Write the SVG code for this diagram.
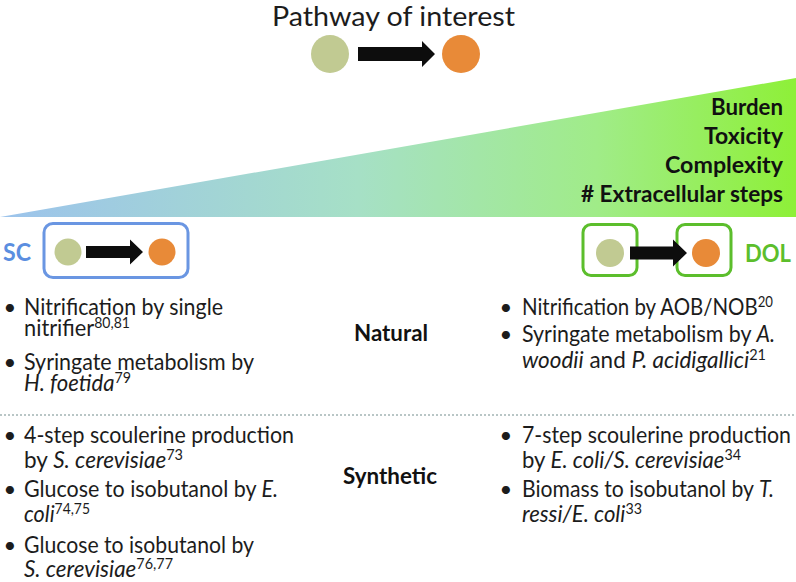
<svg xmlns="http://www.w3.org/2000/svg" width="796" height="582" viewBox="0 0 796 582">
<defs>
<linearGradient id="wedge" x1="0" y1="0" x2="796" y2="0" gradientUnits="userSpaceOnUse">
<stop offset="0" stop-color="#9cc3ec"/>
<stop offset="0.45" stop-color="#a6e0c6"/>
<stop offset="0.75" stop-color="#a0ec88"/>
<stop offset="1" stop-color="#8ef038"/>
</linearGradient>
<style>
.t{font-family:Lato,"Open Sans",sans-serif;font-size:22.5px;fill:#1c1c1c}
.ttl{font-family:Lato,"Open Sans",sans-serif;font-size:26px;fill:#1c1c1c}
.b{font-family:Lato,"Open Sans",sans-serif;font-weight:bold;font-size:22.5px;fill:#111}
.i{font-style:italic}
.sup{font-size:14.5px}
.bul{font-size:22px;text-anchor:middle}
.src{fill:#c1ca92}
.dst{fill:#e88a38}
.arrow{fill:#0d0d0d}
.scbox{fill:none;stroke:#6a96e2;stroke-width:3}
.dolbox{fill:none;stroke:#5cbe2c;stroke-width:3}
</style>
</defs>

<g id="title">
<text class="ttl" x="272" y="26" textLength="243" lengthAdjust="spacingAndGlyphs">Pathway of interest</text>
</g>

<g id="pathway">
<circle class="src" cx="330" cy="54" r="19"/>
<circle class="dst" cx="461" cy="54" r="19"/>
</g>

<g id="gradient">
<polygon points="0,217 796,78 796,217" fill="url(#wedge)"/>
<text class="b" text-anchor="end"><tspan x="783" y="115" textLength="72" lengthAdjust="spacingAndGlyphs">Burden</tspan><tspan x="783" y="144" textLength="79" lengthAdjust="spacingAndGlyphs">Toxicity</tspan><tspan x="783" y="173" textLength="118" lengthAdjust="spacingAndGlyphs">Complexity</tspan><tspan x="783" y="202" textLength="202" lengthAdjust="spacingAndGlyphs"># Extracellular steps</tspan></text>
</g>

<g id="sc">
<text class="b" x="3" y="261" style="fill:#5b8ee0;font-size:25px" textLength="28" lengthAdjust="spacingAndGlyphs">SC</text>
<rect class="scbox" x="44" y="223.5" width="144" height="54" rx="9"/>
<circle class="src" cx="68" cy="252" r="13.5"/>
<circle class="dst" cx="162" cy="252" r="13.5"/>
</g>

<g id="dol">
<rect class="dolbox" x="583" y="224.5" width="54" height="51" rx="8"/>
<rect class="dolbox" x="677" y="224.5" width="54" height="51" rx="8"/>
<circle class="src" cx="610" cy="253" r="14"/>
<circle class="dst" cx="706" cy="253" r="14"/>
<text class="b" x="745" y="262" style="fill:#5cbe2c;font-size:25px" textLength="46" lengthAdjust="spacingAndGlyphs">DOL</text>
</g>

<g id="connectors">
<polygon class="arrow" points="358,47 422,47 422,41 435,54 422,67 422,61 358,61"/>
<polygon class="arrow" points="86,246 130,246 130,239.5 143,252 130,264.5 130,258 86,258"/>
<polygon class="arrow" points="630,246.5 673,246.5 673,239.5 687,253 673,266.5 673,259.5 630,259.5"/>
</g>

<g id="natural-sc">
<text class="t"><tspan class="bul" x="10" y="315">•</tspan><tspan x="24" y="315" textLength="199" lengthAdjust="spacingAndGlyphs">Nitrification by single</tspan><tspan x="24" y="336" textLength="106" lengthAdjust="spacingAndGlyphs">nitrifier<tspan class="sup" dy="-8">80,81</tspan></tspan><tspan class="bul" x="10" y="370">•</tspan><tspan x="24" y="370" textLength="230" lengthAdjust="spacingAndGlyphs">Syringate metabolism by</tspan><tspan x="24" y="391" textLength="107" lengthAdjust="spacingAndGlyphs"><tspan class="i">H. foetida</tspan><tspan class="sup" dy="-8">79</tspan></tspan></text>
</g>

<g id="natural-label">
<text class="b" x="391" y="341" text-anchor="middle" textLength="74" lengthAdjust="spacingAndGlyphs">Natural</text>
</g>

<g id="natural-dol">
<text class="t"><tspan class="bul" x="506" y="315">•</tspan><tspan x="522" y="315" textLength="251" lengthAdjust="spacingAndGlyphs">Nitrification by AOB/NOB<tspan class="sup" dy="-8">20</tspan></tspan><tspan class="bul" x="506" y="342">•</tspan><tspan x="522" y="342" textLength="253" lengthAdjust="spacingAndGlyphs">Syringate metabolism by <tspan class="i">A.</tspan></tspan><tspan x="522" y="368" textLength="244" lengthAdjust="spacingAndGlyphs"><tspan class="i">woodii</tspan> and <tspan class="i">P. acidigallici</tspan><tspan class="sup" dy="-8">21</tspan></tspan></text>
</g>

<g id="divider">
<line x1="0" y1="415" x2="796" y2="415" stroke="#b9c6c6" stroke-width="2" stroke-dasharray="2 2"/>
</g>

<g id="synthetic-sc">
<text class="t"><tspan class="bul" x="10" y="443">•</tspan><tspan x="24" y="443" textLength="270" lengthAdjust="spacingAndGlyphs">4-step scoulerine production</tspan><tspan x="24" y="468" textLength="159" lengthAdjust="spacingAndGlyphs">by <tspan class="i">S. cerevisiae</tspan><tspan class="sup" dy="-8">73</tspan></tspan><tspan class="bul" x="10" y="497">•</tspan><tspan x="24" y="497" textLength="254" lengthAdjust="spacingAndGlyphs">Glucose to isobutanol by <tspan class="i">E.</tspan></tspan><tspan x="24" y="522" textLength="66" lengthAdjust="spacingAndGlyphs"><tspan class="i">coli</tspan><tspan class="sup" dy="-8">74,75</tspan></tspan><tspan class="bul" x="10" y="553">•</tspan><tspan x="24" y="553" textLength="230" lengthAdjust="spacingAndGlyphs">Glucose to isobutanol by</tspan><tspan x="24" y="577" textLength="149" lengthAdjust="spacingAndGlyphs"><tspan class="i">S. cerevisiae</tspan><tspan class="sup" dy="-8">76,77</tspan></tspan></text>
</g>

<g id="synthetic-label">
<text class="b" x="390" y="484" text-anchor="middle" textLength="94" lengthAdjust="spacingAndGlyphs">Synthetic</text>
</g>

<g id="synthetic-dol">
<text class="t"><tspan class="bul" x="506" y="443">•</tspan><tspan x="522" y="443" textLength="269" lengthAdjust="spacingAndGlyphs">7-step scoulerine production</tspan><tspan x="522" y="468" textLength="219" lengthAdjust="spacingAndGlyphs">by <tspan class="i">E. coli/S. cerevisiae</tspan><tspan class="sup" dy="-8">34</tspan></tspan><tspan class="bul" x="506" y="497">•</tspan><tspan x="522" y="497" textLength="252" lengthAdjust="spacingAndGlyphs">Biomass to isobutanol by <tspan class="i">T.</tspan></tspan><tspan x="522" y="522" textLength="120" lengthAdjust="spacingAndGlyphs"><tspan class="i">ressi/E. coli</tspan><tspan class="sup" dy="-8">33</tspan></tspan></text>
</g>
</svg>
